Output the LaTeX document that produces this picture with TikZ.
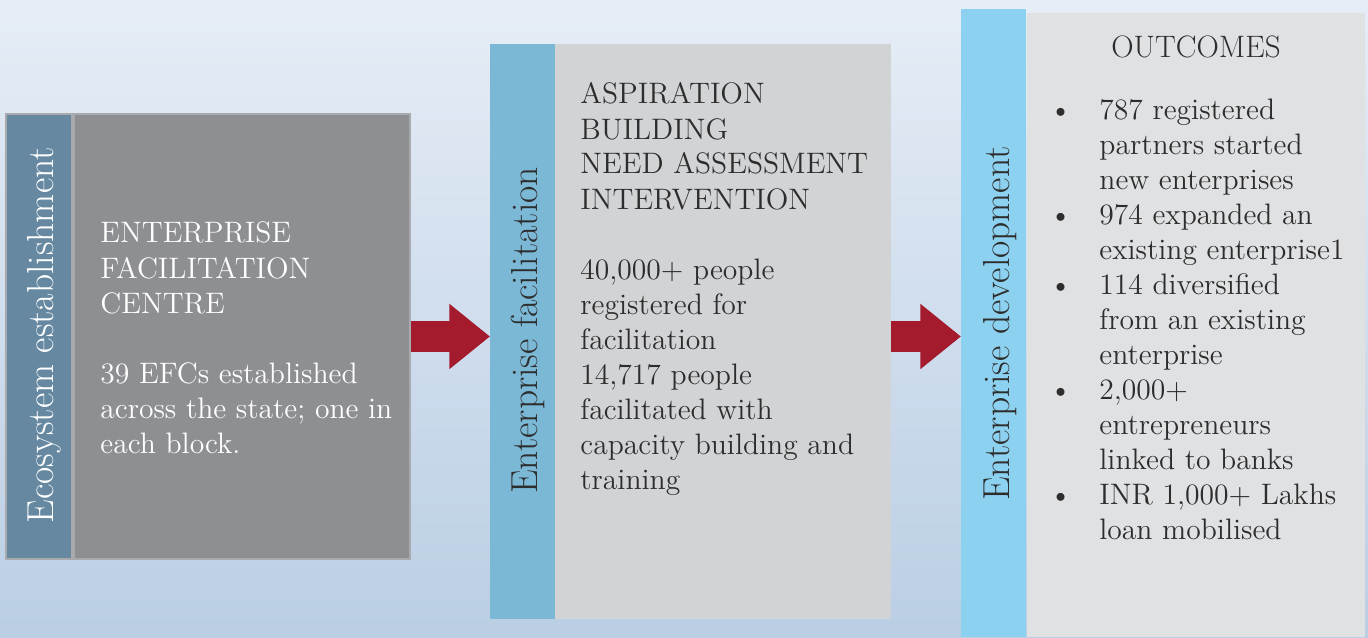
\documentclass[tikz,border=0pt]{standalone}
\usepackage{tikz}
\usetikzlibrary{arrows.meta,positioning}
\definecolor{bgtop}{RGB}{230,237,246}
\definecolor{bgbot}{RGB}{186,206,228}
\definecolor{ecoblue}{RGB}{102,137,161}
\definecolor{ecogray}{RGB}{142,143,147}
\definecolor{ecoedge}{RGB}{169,170,173}
\definecolor{facblue}{RGB}{123,184,214}
\definecolor{facgray}{RGB}{210,211,213}
\definecolor{devblue}{RGB}{141,209,240}
\definecolor{devgray}{RGB}{224,225,227}
\definecolor{arrowred}{RGB}{165,27,46}
\definecolor{darktext}{RGB}{45,45,45}
\newcommand{\bitem}{\makebox[23.5pt][l]{\hspace{-1.5pt}\textbullet}}
\newcommand{\bcont}{\hspace*{23.5pt}}

\begin{document}
\begin{tikzpicture}[x=0.5pt, y=0.5pt]
\tikzstyle{panel} = [rectangle, inner sep=0pt, outer sep=0pt]
\tikzstyle{body text} = [inner sep=0pt, align=left, font=\fontsize{14.8}{17.5}\selectfont]
\tikzstyle{side label} = [inner sep=0pt, rotate=90, anchor=base, font=\fontsize{18.8}{22}\selectfont]
\tikzstyle{bigarrow} = [draw=arrowred, line width=15.7pt, -{Triangle[length=20.3pt, width=31.3pt]}]
\useasboundingbox (0,0) rectangle (1368,637);
\shade[top color=bgtop, bottom color=bgbot] (0,0) rectangle (1368,637);
\node[panel, fill=ecoedge, minimum width=203pt, minimum height=223.5pt] (eco) at (208,300.5) {};
\node[panel, fill=ecoblue, minimum width=32pt, minimum height=221.5pt] (ecostrip) at (39,300.5) {};
\node[panel, fill=ecogray, minimum width=167pt, minimum height=221.5pt] (ecobody) at (242,300.5) {};
\node[panel, fill=facblue, minimum width=32.5pt, minimum height=287pt] (facstrip) at (522.5,305.5) {};
\node[panel, fill=facgray, minimum width=168pt, minimum height=287pt] (facbody) at (723,305.5) {};
\node[panel, fill=devblue, minimum width=32.5pt, minimum height=314pt] (devstrip) at (993.5,314) {};
\node[panel, fill=devgray, minimum width=169pt, minimum height=312pt] (devbody) at (1196,312) {};
\node[side label, white] (ecolabel) at (53,301.7) {Ecosystem establishment};
\node[side label, darktext] (faclabel) at (537,306.6) {Enterprise facilitation};
\node[side label, darktext] (devlabel) at (1009,313.5) {Enterprise development};
\node[body text, white, anchor=base west] (ecotext) at (100,184) {ENTERPRISE\\ FACILITATION\\ CENTRE\\[17.5pt]
  39 EFCs established\\ across the state; one in\\ each block.};
\node[body text, darktext, anchor=base west] (factext) at (580,148) {ASPIRATION\\ BUILDING\\ NEED ASSESSMENT\\ INTERVENTION\\[17.5pt]
  40,000+ people\\ registered for\\ facilitation\\ 14,717 people\\ facilitated with\\ capacity building and\\ training};
\node[body text, darktext, anchor=base, font=\fontsize{15.5}{18}\selectfont] (devtitle) at (1196,579.3) {OUTCOMES};
\node[body text, darktext, anchor=base west] (devtext) at (1052,97.5) {\bitem 787 registered\\ \bcont partners started\\ \bcont new enterprises\\
  \bitem 974 expanded an\\ \bcont existing enterprise1\\ \bitem 114 diversified\\ \bcont from an existing\\ \bcont enterprise\\
  \bitem 2,000+\\ \bcont entrepreneurs\\ \bcont linked to banks\\ \bitem INR 1,000+ Lakhs\\ \bcont loan mobilised};
\draw[bigarrow] (eco.east) -- (eco.east -| facstrip.west);
\draw[bigarrow] (facbody.east |- eco.east) -- (eco.east -| devstrip.west);
\end{tikzpicture}
\end{document}
